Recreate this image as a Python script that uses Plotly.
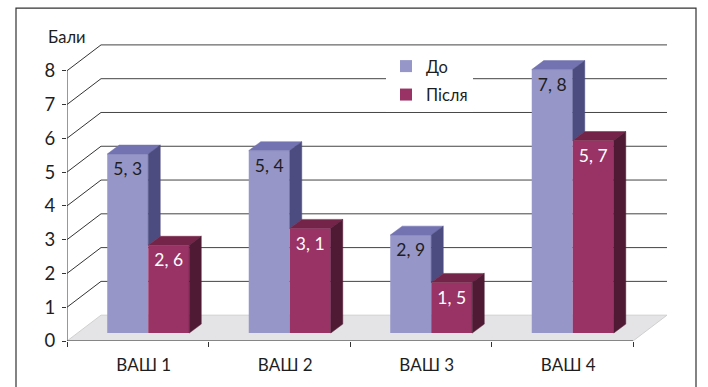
import plotly.graph_objects as go

# ---- data ----
categories = ["ВАШ 1", "ВАШ 2", "ВАШ 3", "ВАШ 4"]
series_names = ["До", "Після"]
before_vals = [5.3, 5.4, 2.9, 7.8]
after_vals = [2.6, 3.1, 1.5, 5.7]
y_ticks = [0, 1, 2, 3, 4, 5, 6, 7, 8]
y_title = "Бали"

# ---- styling / geometry (pixel based, converted to axis units) ----
FONT = "Lato, Noto Sans, DejaVu Sans, sans-serif"
XS = 141.5          # px per category
YS = 34.0           # px per value unit
W, H = 708, 387
ML, MR, MT, MB = 67, 41, 30, 44
PW, PH = W - ML - MR, H - MT - MB

DXW, DYW = 34 / XS, 26 / YS          # floor / wall depth
BASE_DX, BASE_DY = 10.5 / XS, 8 / YS  # bar front plane offset
BDX, BDY = 12 / XS, 9 / YS            # bar depth
BW = 41 / XS                          # bar width

col_front = ["#9696C8", "#993366"]
col_top = ["#7373B2", "#742449"]
col_side = ["#4C4C80", "#4E1A34"]
text_col = ["#1E1E1E", "#FFFFFF"]

xs = list(range(len(categories)))
offsets = [BASE_DX - BW, BASE_DX]

fig = go.Figure()

# front faces as bars
for s, vals in enumerate([before_vals, after_vals]):
    fig.add_trace(go.Bar(
        x=xs, y=vals, base=[BASE_DY] * len(vals), offset=offsets[s], width=BW,
        marker=dict(color=col_front[s], line=dict(width=0)),
        name=series_names[s], legendgroup=series_names[s], hoverinfo="skip",
    ))


def poly_trace(polys, color):
    px, py = [], []
    for p in polys:
        for (a, b) in p + [p[0]]:
            px.append(a)
            py.append(b)
        px.append(None)
        py.append(None)
    return go.Scatter(x=px, y=py, mode="lines", fill="toself", fillcolor=color,
                      line=dict(color=color, width=0.5), showlegend=False,
                      hoverinfo="skip")


for s, vals in enumerate([before_vals, after_vals]):
    tops, sides = [], []
    for i, v in enumerate(vals):
        xl = xs[i] + offsets[s]
        xr = xl + BW
        yt = BASE_DY + v
        tops.append([(xl, yt), (xl + BDX, yt + BDY), (xr + BDX, yt + BDY), (xr, yt)])
        yb = BASE_DY + (after_vals[i] if s == 0 else 0)
        sides.append([(xr, yb), (xr + BDX, yb + BDY), (xr + BDX, yt + BDY), (xr, yt)])
    fig.add_trace(poly_trace(tops, col_top[s]))
    fig.add_trace(poly_trace(sides, col_side[s]))

# value labels
for s, vals in enumerate([before_vals, after_vals]):
    fig.add_trace(go.Scatter(
        x=[xs[i] + offsets[s] + BW / 2 for i in range(len(vals))],
        y=[BASE_DY + v - 17 / YS for v in vals],
        mode="text", text=[f"{v:.1f}".replace(".", ", ") for v in vals],
        textfont=dict(family=FONT, size=17.5, color=text_col[s]),
        showlegend=False, hoverinfo="skip",
    ))

shapes = []
x_left = -0.5
x_right = len(categories) - 0.5
# floor
shapes.append(dict(type="path", layer="below", xref="x", yref="y",
                   path=f"M{x_left},0 L{x_left + DXW},{DYW} L{x_right + DXW},{DYW} L{x_right},0 Z",
                   fillcolor="#E4E4E6", line=dict(color="#D0D0D0", width=1)))
# wall gridlines
for k in y_ticks[1:]:
    shapes.append(dict(type="line", layer="below", xref="x", yref="y",
                       x0=x_left, y0=k, x1=x_left + DXW, y1=k + DYW,
                       line=dict(color="#333333", width=1)))
    shapes.append(dict(type="line", layer="below", xref="x", yref="y",
                       x0=x_left + DXW, y0=k + DYW, x1=x_right + DXW, y1=k + DYW,
                       line=dict(color="#444444", width=1)))
# axis lines
shapes.append(dict(type="line", xref="x", yref="y", x0=x_left, y0=0, x1=x_left, y1=y_ticks[-1],
                   line=dict(color="#333333", width=1)))
shapes.append(dict(type="line", xref="x", yref="y", x0=x_left, y0=0, x1=x_right, y1=0,
                   line=dict(color="#333333", width=1)))
# outer frame
shapes.append(dict(type="rect", xref="paper", yref="paper",
                   x0=(16 - ML) / PW, x1=(696 - ML) / PW,
                   y0=(H - MB - 420) / PH, y1=(H - MB - 8) / PH,
                   line=dict(color="#333333", width=1.2), fillcolor="rgba(0,0,0,0)"))

fig.update_layout(
    width=W, height=H,
    margin=dict(l=ML, r=MR, t=MT, b=MB),
    paper_bgcolor="white", plot_bgcolor="white",
    barmode="overlay",
    shapes=shapes,
    showlegend=True,
    legend=dict(x=(386 - ML) / PW, y=(H - MB - 49) / PH, xanchor="left", yanchor="top",
                bgcolor="white", borderwidth=0, tracegroupgap=4,
                font=dict(family=FONT, size=16.5, color="#1E1E1E")),
    font=dict(family=FONT, size=16, color="#1E1E1E"),
    annotations=[dict(text=y_title, xref="paper", yref="paper",
                      x=(46 - ML) / PW, y=(H - MB - 37) / PH, xanchor="left", yanchor="middle",
                      showarrow=False, font=dict(family=FONT, size=16.5, color="#1E1E1E"))],
)
fig.update_xaxes(
    range=[x_left, x_left + PW / XS], showgrid=False, zeroline=False, showline=False,
    tickvals=xs, ticktext=categories, ticks="outside", ticklen=5,
    tickcolor="rgba(0,0,0,0)", ticklabelshift=6, ticklabelstandoff=4,
    tickfont=dict(family=FONT, size=17, color="#1E1E1E"),
    minor=dict(tickvals=[i - 0.5 for i in range(len(categories) + 1)],
               ticks="outside", ticklen=5, tickcolor="#333333", showgrid=False),
)
fig.update_yaxes(
    range=[0, PH / YS], showgrid=False, zeroline=False, showline=False,
    tickvals=y_ticks, ticks="outside", ticklen=4, tickcolor="#333333",
    ticklabelstandoff=3,
    tickfont=dict(family=FONT, size=18.5, color="#1E1E1E"),
)

fig.write_html("out.html")
